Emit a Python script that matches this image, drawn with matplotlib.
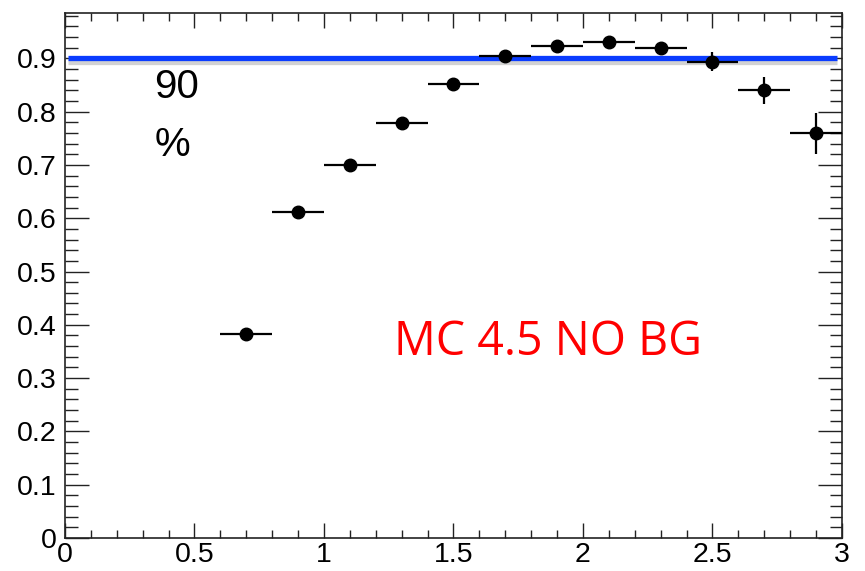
import matplotlib.pyplot as plt
import matplotlib.patheffects as pe

# efficiency per bin
bin_center = [0.7, 0.9, 1.1, 1.3, 1.5, 1.7, 1.9, 2.1, 2.3, 2.5, 2.7, 2.9]
bin_half = [0.1] * 12
eff = [0.382, 0.611, 0.699, 0.778, 0.851, 0.904, 0.924, 0.930, 0.919, 0.894, 0.840, 0.759]
eff_err = [0.004, 0.005, 0.005, 0.005, 0.005, 0.006, 0.006, 0.007, 0.009, 0.017, 0.025, 0.038]
target = 0.9

fig = plt.figure(figsize=(8.65, 5.71), dpi=100)
ax = fig.add_axes([0.0751, 0.0578, 0.8983, 0.9194])

ax.errorbar(bin_center, eff, xerr=bin_half, yerr=eff_err, fmt='o', color='black',
            markersize=9, elinewidth=1.6, capsize=0, zorder=3)

ax.plot([0.012, 2.98], [target, target], color='#0a3cff', lw=3.8, solid_capstyle='butt',
        zorder=2, path_effects=[pe.SimpleLineShadow(offset=(0, -2.5), shadow_color='grey', alpha=0.35),
                                pe.Normal()])

ax.text(0.345, 0.846, '90', fontsize=29, family='Liberation Sans', va='center', ha='left')
ax.text(0.345, 0.737, '%', fontsize=29, family='Liberation Sans', va='center', ha='left')
ax.text(1.27, 0.367, 'MC 4.5 NO BG', fontsize=33.5, family='Open Sans', color='#ff0000',
        va='center', ha='left')

ax.set_xlim(0, 3)
ax.set_ylim(0, 0.985)
ax.set_xticks([0, 0.5, 1, 1.5, 2, 2.5, 3])
ax.set_xticklabels(['0', '0.5', '1', '1.5', '2', '2.5', '3'])
ax.set_xticks([i * 0.1 for i in range(31)], minor=True)
ax.set_yticks([i * 0.1 for i in range(10)])
ax.set_yticklabels(['0', '0.1', '0.2', '0.3', '0.4', '0.5', '0.6', '0.7', '0.8', '0.9'])
ax.set_yticks([i * 0.02 for i in range(50)], minor=True)

for lab in ax.get_xticklabels() + ax.get_yticklabels():
    lab.set_family('Liberation Sans')
    lab.set_fontsize(20.5)

ax.tick_params(axis='both', which='both', direction='in', top=True, right=True, width=1, color='#222222')
ax.tick_params(axis='x', which='major', length=11, pad=3)
ax.tick_params(axis='x', which='minor', length=6)
ax.tick_params(axis='y', which='major', length=17, pad=6)
ax.tick_params(axis='y', which='minor', length=9)
for s in ax.spines.values():
    s.set_linewidth(1.2)
    s.set_color('#222222')

fig.savefig('out.png', dpi=100)
